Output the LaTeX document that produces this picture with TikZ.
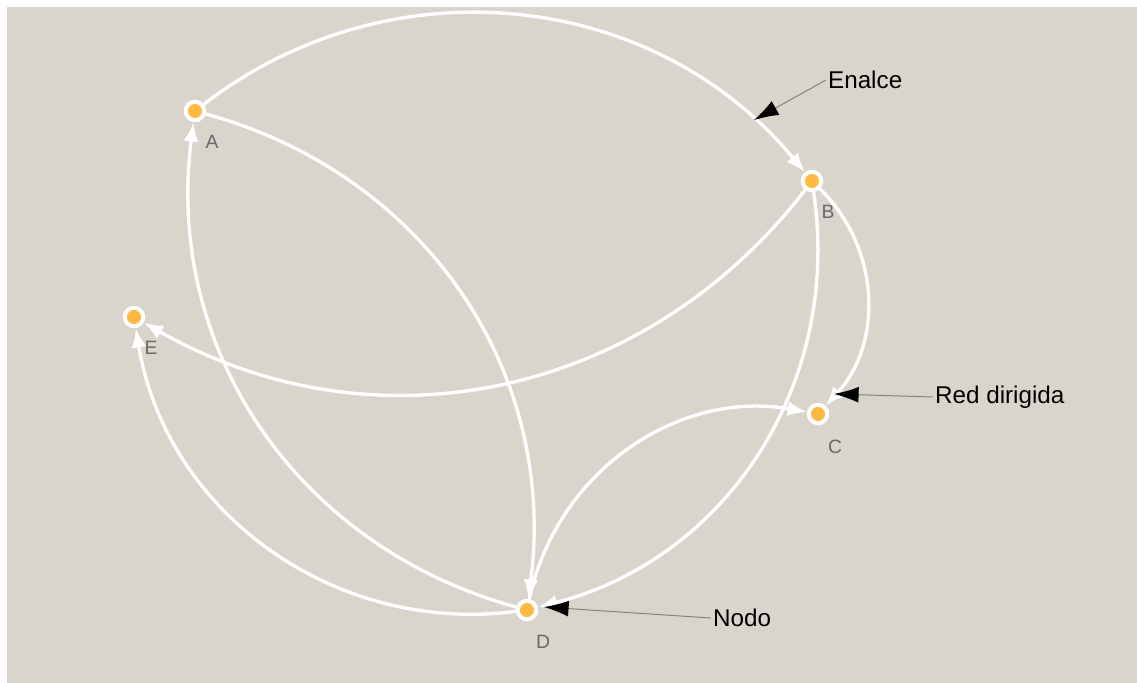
\documentclass[tikz,border=0pt]{standalone}
\usepackage{fontspec}
\setmainfont{Liberation Sans}
\usetikzlibrary{arrows.meta}
\definecolor{bg}{RGB}{217,213,205}
\definecolor{nodefill}{RGB}{253,185,64}
\definecolor{labgray}{RGB}{105,105,105}
\begin{document}
\begin{tikzpicture}[x=0.02cm,y=-0.02cm,
  vert/.style={circle,draw=white,line width=2.3pt,fill=nodefill,minimum size=10.5pt,inner sep=0pt},
  lab/.style={text=labgray,font=\fontsize{11}{13}\selectfont,inner sep=0pt},
  edge/.style={draw=white,line width=1.9pt,-{Latex[length=11pt,width=8.5pt]}},
  note/.style={font=\fontsize{13.8}{16}\selectfont,text=black,inner sep=1pt,anchor=west},
  pointer/.style={draw=gray,line width=0.55pt,-{Latex[length=14pt,width=9pt,fill=black,color=black]}}]
\useasboundingbox (0,0) rectangle (1137,683);
\fill[white] (0,0) rectangle (1137,683);
\fill[bg] (7,7) rectangle (1137,683);
% nodes
\node[vert] (A) at (195,111) {};
\node[vert] (B) at (812,181) {};
\node[vert] (C) at (818,414) {};
\node[vert] (D) at (527,610) {};
\node[vert] (E) at (134,317) {};
\node[lab] (lA) at (212,142) {A};
\node[lab] (lB) at (828,212) {B};
\node[lab] (lC) at (835,447) {C};
\node[lab] (lD) at (543,642) {D};
\node[lab] (lE) at (151,348) {E};
% edges
\draw[edge] (A) to[bend left=44] (B);
\draw[edge] (A) to[bend left=41] (D);
\draw[edge] (D) to[bend left=41] (A);
\draw[edge] (B) to[bend left=41] (E);
\draw[edge] (B) to[bend left=44] (C);
\draw[edge] (B) to[bend left=42] (D);
\draw[edge] (D) to[bend left=44] (C);
\draw[edge] (D) to[bend left=44] (E);
% annotations
\node[note] (tE) at (826,80) {Enalce};
\node[note] (tR) at (933,397) {Red dirigida};
\node[note] (tN) at (711,618) {Nodo};
\coordinate (pE) at (754,120);
\coordinate (pR) at (834,394);
\coordinate (pN) at (544,607);
\draw[pointer] (tE.west) -- (pE);
\draw[pointer] (tR.west) -- (pR);
\draw[pointer] (tN.west) -- (pN);
\end{tikzpicture}
\end{document}
